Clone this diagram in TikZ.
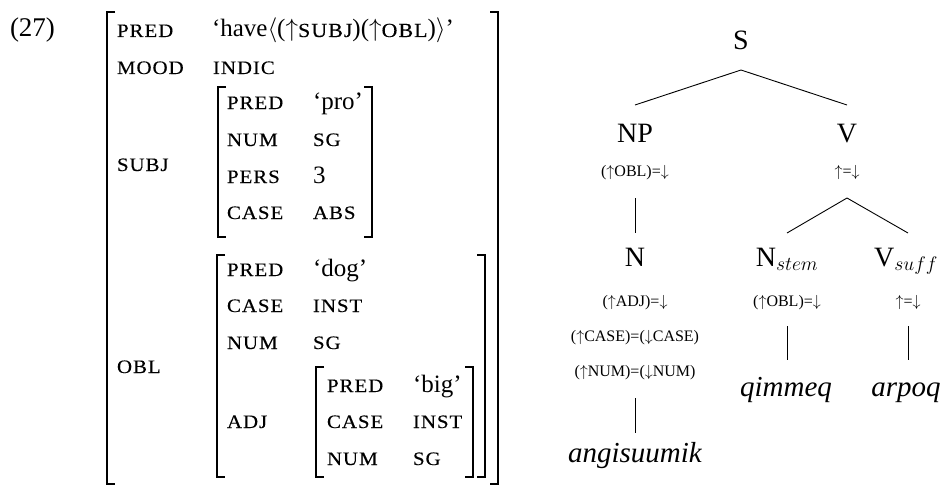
\RequirePackage{fix-cm}
\documentclass[tikz,border=0pt]{standalone}
\usepackage{fontspec}
\setmainfont{Liberation Serif}
\newfontfamily\featfont[FakeStretch=1.1,LetterSpace=5,FakeBold=0.25]{Liberation Serif}
\usetikzlibrary{calc}
% small-capital feature names
\newcommand\fsc[1]{{\featfont\fontsize{20}{20}\selectfont #1}}
\newcommand\up{$\uparrow$}
\newcommand\dn{$\downarrow$}
% a pair of square brackets: left x, right x, top y, bottom y
\newcommand\avmbox[4]{%
  \draw[brk] ({#1+8},#3) -| (#1,#4) -- ({#1+8},#4);
  \draw[brk] ({#2-8},#3) -| (#2,#4) -- ({#2-8},#4);}
\tikzset{
  every node/.style={inner sep=0pt, outer sep=0pt},
  feat/.style={anchor=base west, font=\featfont\fontsize{19}{19}\selectfont},
  val/.style={anchor=base west, font=\fontsize{25}{25}\selectfont},
  brk/.style={line width=1.6pt},
  cat/.style={anchor=base, font=\fontsize{28}{28}\selectfont},
  ann/.style={anchor=base, font=\fontsize{16}{16}\selectfont},
  word/.style={anchor=base, font=\itshape\fontsize{29}{29}\selectfont},
  edge/.style={line width=0.9pt},
}
\begin{document}
\begin{tikzpicture}[x=1pt,y=-1pt]
\useasboundingbox (0,0) rectangle (944,487);

% example number
\node[anchor=base west, font=\fontsize{27}{27}\selectfont] (ex) at (10,37) {(27)};

% ---------- f-structure ----------
\avmbox{107}{498}{12}{484}
\node[feat] (fPred) at (117,37) {PRED};
\node[val]  (vPred) at (212,37) {‘have$\langle$(\up\fsc{SUBJ})(\up\fsc{OBL})$\rangle$’};
\node[feat] (fMood) at (117,74) {MOOD};
\node[feat] (vMood) at (213,74) {INDIC};

% SUBJ
\node[feat] (fSubj) at (117,171) {SUBJ};
\avmbox{218}{372}{87}{237}
\node[feat] (sPred) at (227,109) {PRED};
\node[val]  (sPredV) at (313,109) {‘pro’};
\node[feat] (sNum) at (227,146) {NUM};
\node[feat] (sNumV) at (313,146) {SG};
\node[feat] (sPers) at (227,183) {PERS};
\node[val]  (sPersV) at (313,183) {3};
\node[feat] (sCase) at (227,219) {CASE};
\node[feat] (sCaseV) at (313,219) {ABS};

% OBL
\node[feat] (fObl) at (117,373) {OBL};
\avmbox{217}{485}{255}{477}
\node[feat] (oPred) at (227,276) {PRED};
\node[val]  (oPredV) at (313,276) {‘dog’};
\node[feat] (oCase) at (227,312) {CASE};
\node[feat] (oCaseV) at (313,312) {INST};
\node[feat] (oNum) at (227,349) {NUM};
\node[feat] (oNumV) at (313,349) {SG};

% ADJ inside OBL
\node[feat] (fAdj) at (227,428) {ADJ};
\avmbox{316}{473}{367}{477}
\node[feat] (aPred) at (327,392) {PRED};
\node[val]  (aPredV) at (413,392) {‘big’};
\node[feat] (aCase) at (327,428) {CASE};
\node[feat] (aCaseV) at (413,428) {INST};
\node[feat] (aNum) at (327,465) {NUM};
\node[feat] (aNumV) at (413,465) {SG};

% ---------- c-structure ----------
\node[cat] (S)  at (741,50)  {S};
\node[cat] (NP) at (635,142) {NP};
\node[cat] (V)  at (847,142) {V};
\node[ann] (NPa) at (635,176) {(\up OBL)=\dn};
\node[ann] (Va)  at (847,176) {\up=\dn};

\node[cat] (N)  at (635,266) {N};
\node[cat] (Ns) at (787,266) {N$_{stem}$};
\node[cat] (Vs) at (906,266) {V$_{suff}$};

\node[ann] (Na1) at (635,306) {(\up ADJ)=\dn};
\node[ann] (Na2) at (635,341) {(\up CASE)=(\dn CASE)};
\node[ann] (Na3) at (635,376) {(\up NUM)=(\dn NUM)};
\node[ann] (Nsa) at (787,306) {(\up OBL)=\dn};
\node[ann] (Vsa) at (908,306) {\up=\dn};

\node[word] (w1) at (635,462) {angisuumik};
\node[word] (w2) at (786,396) {qimmeq};
\node[word] (w3) at (906,396) {arpoq};

% tree edges
\draw[edge] ($(S.base)+(0,20)$) -- ($(NP.base)+(0,-37)$);
\draw[edge] ($(S.base)+(0,20)$) -- ($(V.base)+(0,-37)$);
\draw[edge] ($(NPa.base)+(0,22)$) -- ($(N.base)+(0,-33)$);
\draw[edge] ($(Va.base)+(0,22)$) -- ($(Ns.base)+(0,-33)$);
\draw[edge] ($(Va.base)+(0,22)$) -- ($(Vs.base)+(2,-33)$);
\draw[edge] ($(Na3.base)+(0,22)$) -- ($(w1.base)+(0,-29)$);
\draw[edge] ($(Nsa.base)+(0,20)$) -- ($(w2.base)+(1,-36)$);
\draw[edge] ($(Vsa.base)+(0,20)$) -- ($(w3.base)+(2,-36)$);
\end{tikzpicture}
\end{document}
